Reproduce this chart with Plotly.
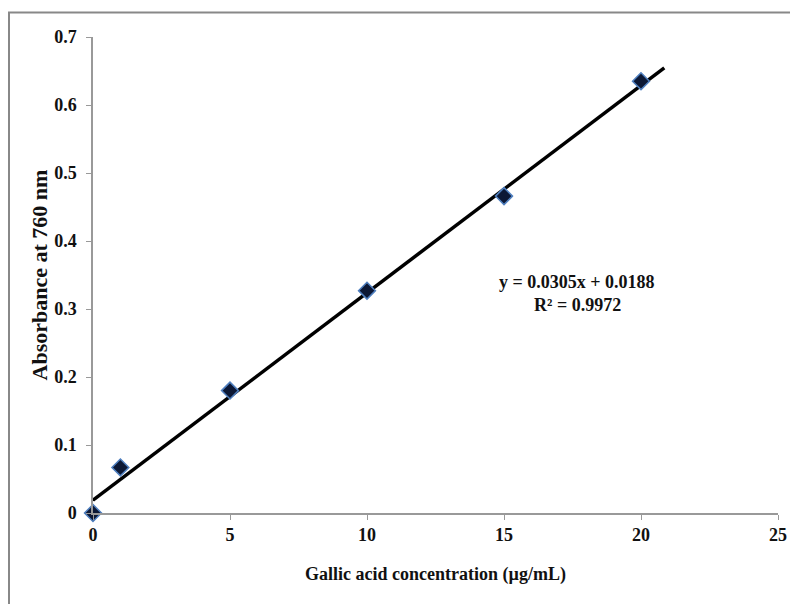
import plotly.graph_objects as go

conc = [0, 1, 5, 10, 15, 20]
absorb = [0.0, 0.067, 0.180, 0.327, 0.466, 0.635]
slope = 0.0305
intercept = 0.0188
trend_x = [0, 20.85]
trend_y = [intercept + slope * v for v in trend_x]
x_ticks = [0, 5, 10, 15, 20, 25]
y_ticks = [0, 0.1, 0.2, 0.3, 0.4, 0.5, 0.6, 0.7]
y_ticktext = ["0", "0.1", "0.2", "0.3", "0.4", "0.5", "0.6", "0.7"]

# the page adds an 8px body margin, so figure coords = screen coords - 8
OFF = 8
W, H = 798, 604
L, R, T, B = 93 - OFF, 20 + OFF, 37 - OFF, 91 + OFF
pw, ph = W - L - R, H - T - B

def px(xs):
    return (xs - OFF - L) / pw

def py(ys):
    return (H - B - (ys - OFF)) / ph

FAM = "Liberation Serif, Times New Roman, serif"
font = dict(family=FAM, size=18, color="#111111")
tickfont = dict(family=FAM, size=18, color="#111111", weight="bold")

fig = go.Figure()
fig.add_trace(go.Scatter(x=trend_x, y=trend_y, mode="lines",
                         line=dict(color="black", width=3.5), showlegend=False))
fig.add_trace(go.Scatter(x=conc, y=absorb, mode="markers", cliponaxis=False,
                         marker=dict(symbol="diamond", size=13, color="#0c1835",
                                     line=dict(color="#4f7fbf", width=1.5)),
                         showlegend=False))

fig.add_annotation(xref="paper", yref="paper", x=px(577), y=py(282), xanchor="center",
                   yanchor="middle", text="<b>y = 0.0305x + 0.0188</b>", showarrow=False, font=font)
fig.add_annotation(xref="paper", yref="paper", x=px(577), y=py(305), xanchor="center",
                   yanchor="middle", text="<b>R² = 0.9972</b>", showarrow=False, font=font)

# outer frame (top and left edges visible)
fig.add_shape(type="line", xref="paper", yref="paper", x0=px(8), x1=px(810),
              y0=py(12.5), y1=py(12.5), line=dict(color="#888888", width=2))
fig.add_shape(type="line", xref="paper", yref="paper", x0=px(9), x1=px(9),
              y0=py(12), y1=py(615), line=dict(color="#888888", width=2))

fig.update_xaxes(range=[0, 25], tickvals=x_ticks, ticks="outside", ticklen=5,
                 tickcolor="#999999", showline=True, linecolor="#999999", linewidth=1.5,
                 showgrid=False, zeroline=False, tickfont=tickfont, automargin=False,
                 title=dict(text="<b>Gallic acid concentration (µg/mL)</b>", font=font, standoff=23))
fig.update_yaxes(range=[0, 0.7], tickvals=y_ticks, ticktext=y_ticktext, ticks="outside",
                 ticklen=5, tickcolor="#999999", showline=True, linecolor="#999999",
                 linewidth=1.5, showgrid=False, zeroline=False, tickfont=tickfont, automargin=False,
                 ticklabelstandoff=6,
                 title=dict(text="<b>Absorbance at 760 nm</b>",
                            font=dict(family=FAM, size=22, color="#111111"), standoff=0))
fig.update_layout(width=W, height=H, margin=dict(l=L, r=R, t=T, b=B),
                  paper_bgcolor="white", plot_bgcolor="white", font=font)

fig.write_html("out.html")
